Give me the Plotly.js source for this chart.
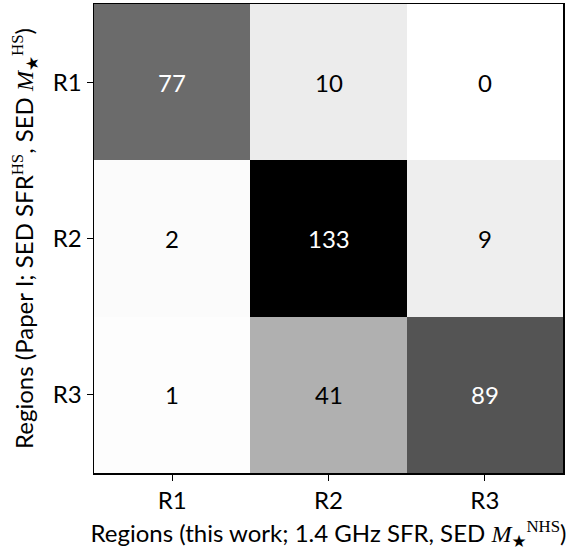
<!DOCTYPE html>
<html>
<head>
<meta charset="utf-8">
<script src="https://cdn.plot.ly/plotly-3.0.1.min.js"></script>
<style>html,body{margin:0;padding:0;background:#fff;}</style>
</head>
<body>
<div id="chart" style="width:574px;height:558px;"></div>
<script>
const xCategories = ['R1', 'R2', 'R3'];
const yCategories = ['R1', 'R2', 'R3'];
const counts = [
  [77, 10, 0],
  [2, 133, 9],
  [1, 41, 89]
];
const zMax = 133;

const FONT = 'Lato, "DejaVu Sans", sans-serif';
const SERIF = "'Liberation Serif'";
const FS = 24;
const TFS = 24;

const annotations = [];
counts.forEach((row, i) => {
  row.forEach((v, j) => {
    annotations.push({
      x: xCategories[j], y: yCategories[i], xref: 'x', yref: 'y',
      text: String(v), showarrow: false,
      font: {family: FONT, size: FS, color: v / zMax > 0.5 ? '#ffffff' : '#000000'}
    });
  });
});

const data = [{
  type: 'heatmap',
  x: xCategories,
  y: yCategories,
  z: counts,
  zmin: 0, zmax: zMax,
  colorscale: [[0, '#ffffff'], [1, '#000000']],
  showscale: false,
  hoverinfo: 'none'
}];

const ser = (t) => '<span style="font-family:' + SERIF + '">' + t + '</span>';

const layout = {
  width: 574, height: 558,
  margin: {l: 94, r: 11, t: 4, b: 85},
  paper_bgcolor: '#ffffff', plot_bgcolor: '#ffffff',
  font: {family: FONT, size: FS, color: '#000'},
  xaxis: {
    type: 'category', showgrid: false, zeroline: false,
    showline: true, mirror: true, linecolor: '#000', linewidth: 1.5,
    ticks: 'outside', ticklen: 6, tickwidth: 1.2, tickcolor: '#000',
    tickfont: {family: FONT, size: FS},
    title: {
      text: 'Regions (this work; 1.4 GHz SFR, SED ' + ser('<i>M</i>') + '<sub>★</sub><sup>' + ser('NHS') + '</sup>)',
      font: {family: FONT, size: TFS}, standoff: 12
    }
  },
  yaxis: {
    type: 'category', autorange: 'reversed', showgrid: false, zeroline: false,
    showline: true, mirror: true, linecolor: '#000', linewidth: 1.5,
    ticks: 'outside', ticklen: 6, tickwidth: 1.2, tickcolor: '#000',
    tickfont: {family: FONT, size: FS},
    title: {
      text: 'Regions (Paper I; SED SFR<sup>' + ser('HS') + '</sup>, SED ' + ser('<i>M</i>') + '<sub>★</sub><sup>' + ser('HS') + '</sup>)',
      font: {family: FONT, size: TFS}, standoff: 12
    }
  },
  annotations: annotations
};

Plotly.newPlot('chart', data, layout, {displayModeBar: false, staticPlot: true});
</script>
</body>
</html>
